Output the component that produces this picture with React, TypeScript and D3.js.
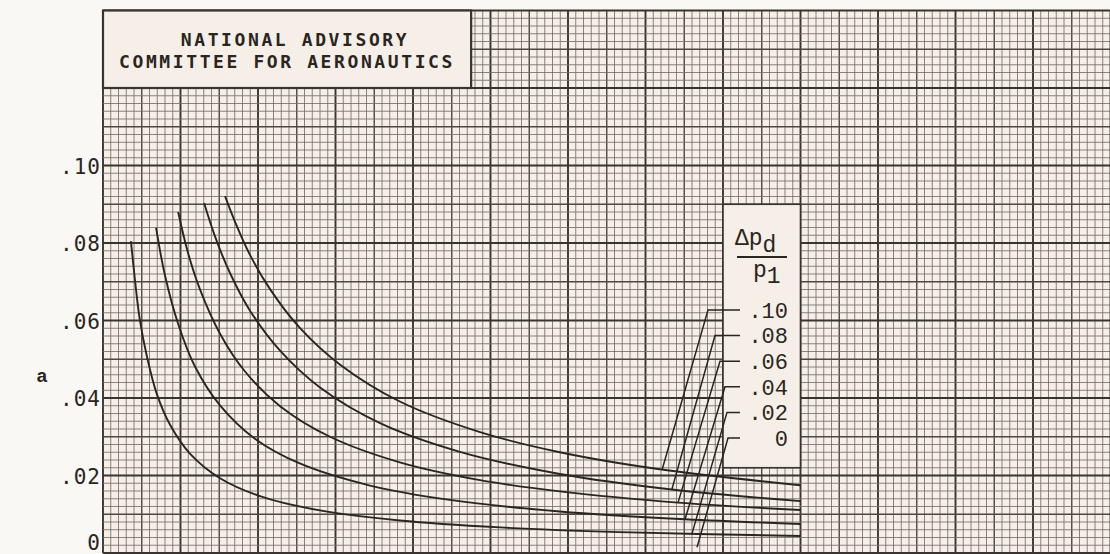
import React from 'react';
import * as d3 from 'd3';

const W = 1110;
const H = 554;

// Title block text
const titleLines = ['NATIONAL ADVISORY', 'COMMITTEE FOR AERONAUTICS'];

// Y axis ticks
const yTickValues = [0, 0.02, 0.04, 0.06, 0.08, 0.1];
const yTickLabels = ['0', '.02', '.04', '.06', '.08', '.10'];
const yAxisLabel = 'a';

// Curve parameters (Δp_d / p1)
const curveParams = [0.02, 0.04, 0.06, 0.08, 0.1];

// x in grid units (abscissa not labelled in this crop), a values
const xA = [0.72, 0.83, 0.95, 1.14, 1.39, 1.73, 2.25, 3.02, 4.05, 5.6, 7.66, 10.25, 13.34, 18.0];
const aA = [0.0805, 0.07, 0.0602, 0.0504, 0.041, 0.0331, 0.0256, 0.0193, 0.0147, 0.011, 0.0084, 0.0066, 0.0054, 0.0044];

const xB = [1.37, 1.6, 1.94, 2.37, 3.02, 3.92, 5.08, 6.89, 8.95, 11.79, 15.02, 18.0];
const aB = [0.0839, 0.0716, 0.0591, 0.0482, 0.0381, 0.0295, 0.0231, 0.0174, 0.0137, 0.0107, 0.0087, 0.0075];

const xC = [1.94, 2.19, 2.5, 3.02, 3.66, 4.57, 5.86, 7.66, 9.73, 11.79, 14.84, 18.0];
const aC = [0.088, 0.0776, 0.0681, 0.0566, 0.0469, 0.0379, 0.03, 0.0234, 0.0188, 0.0159, 0.013, 0.0111];

const xD = [2.61, 2.89, 3.28, 3.79, 4.57, 5.6, 7.15, 9.21, 11.79, 14.68, 18.0];
const aD = [0.0903, 0.0817, 0.0722, 0.0626, 0.0522, 0.0427, 0.0335, 0.0261, 0.0204, 0.0164, 0.0134];

const xE = [3.15, 3.41, 3.79, 4.31, 5.08, 6.12, 7.66, 9.73, 11.79, 14.37, 18.0];
const aE = [0.0921, 0.0854, 0.077, 0.0681, 0.0581, 0.0486, 0.0391, 0.0312, 0.026, 0.0216, 0.0175];

const curveXs = [xA, xB, xC, xD, xE];
const curveAs = [aA, aB, aC, aD, aE];

// Legend labels (Δp_d / p1), top to bottom
const legendValues = [0.1, 0.08, 0.06, 0.04, 0.02, 0];
const legendLabels = ['.10', '.08', '.06', '.04', '.02', '0'];
// x (grid units) where each leader meets its curve
const leaderFootX = [14.43, 14.68, 14.84, 15.02, 15.2, 15.33];

const X_DOMAIN: [number, number] = [0, 26];
const Y_DOMAIN: [number, number] = [0, 0.14];

function interp(xs: number[], ys: number[], x: number) {
  for (let i = 0; i < xs.length - 1; i++) {
    if (x >= xs[i] && x <= xs[i + 1]) {
      const t = (x - xs[i]) / (xs[i + 1] - xs[i]);
      return ys[i] + t * (ys[i + 1] - ys[i]);
    }
  }
  return ys[ys.length - 1];
}

export default function App() {
  const x = d3.scaleLinear().domain(X_DOMAIN).range([103, 1110.5]);
  const y = d3.scaleLinear().domain(Y_DOMAIN).range([553, 10.5]);

  const paper = '#f5efe7';
  const outside = '#f9f8f4';
  const ink = '#2a2522';

  const minorX = d3.range(0, 27.01, 0.2);
  const minorY = d3.range(0, 0.1401, 0.002);
  const gridLines: JSX.Element[] = [];
  const xLeft = x(0);
  const xRight = x(27);
  const yTop = y(0.14);
  const yBot = y(0);
  const gStroke = (k: number) => (k % 10 === 0 ? '#3a3430' : k % 5 === 0 ? '#4e4742' : '#766e68');
  const gWidth = (k: number) => (k % 10 === 0 ? 1.9 : k % 5 === 0 ? 1.4 : 0.85);
  minorX.forEach((v, i) => {
    const k = Math.round(v / 0.2);
    gridLines.push(
      <line key={'gx' + i} x1={x(v)} x2={x(v)} y1={yTop} y2={yBot} stroke={gStroke(k)} strokeWidth={gWidth(k)} />
    );
  });
  minorY.forEach((v, i) => {
    const k = Math.round(v / 0.002);
    gridLines.push(
      <line key={'gy' + i} x1={xLeft} x2={xRight} y1={y(v)} y2={y(v)} stroke={gStroke(k)} strokeWidth={gWidth(k)} />
    );
  });

  const line = d3
    .line<[number, number]>()
    .x((d) => x(d[0]))
    .y((d) => y(d[1]))
    .curve(d3.curveCatmullRom.alpha(0.5));

  const tbx0 = x(0), tbx1 = x(9.5), tby0 = y(0.14), tby1 = y(0.12);
  const lbx0 = x(16), lbx1 = x(18), lby0 = y(0.09), lby1 = y(0.022);

  const legendTop = 310;
  const legendStep = 25.6;
  const leaderTopX = [708, 715, 720, 725, 727, 728];

  return (
    <svg
      width={W}
      height={H}
      style={{ position: 'absolute', left: 0, top: 0, display: 'block' }}
      xmlns="http://www.w3.org/2000/svg"
    >
      <rect x={0} y={0} width={W} height={H} fill={outside} />
      <rect x={xLeft} y={yTop} width={xRight - xLeft} height={yBot - yTop} fill={paper} />
      <g>{gridLines}</g>

      {/* title block */}
      <rect x={tbx0} y={tby0} width={tbx1 - tbx0} height={tby1 - tby0} fill={paper} stroke="#3a3430" strokeWidth={2.2} />
      <g fontFamily="'DejaVu Sans Mono', monospace" fontWeight="bold" fontSize={18} fill={ink} textAnchor="middle" letterSpacing={2.6}>
        <text x={295} y={46}>{titleLines[0]}</text>
        <text x={287} y={68}>{titleLines[1]}</text>
      </g>

      {/* legend block */}
      <rect x={lbx0} y={lby0} width={lbx1 - lbx0} height={lby1 - lby0} fill={paper} stroke="#3a3430" strokeWidth={1.6} />

      {/* curves */}
      {curveXs.map((xs, i) => (
        <path
          key={'c' + curveParams[i]}
          d={line(xs.map((v, j) => [v, curveAs[i][j]] as [number, number])) || ''}
          fill="none"
          stroke={ink}
          strokeWidth={1.9}
        />
      ))}

      {/* leaders and legend labels */}
      {legendValues.map((v, i) => {
        const cy = legendTop + i * legendStep;
        const ci = curveParams.indexOf(v);
        const footA = ci >= 0 ? interp(curveXs[ci], curveAs[ci], leaderFootX[i]) : 0.0015;
        const fx = x(leaderFootX[i]);
        const fy = y(footA);
        return (
          <g key={'lg' + i}>
            <polyline
              points={`${fx},${fy} ${leaderTopX[i]},${cy} ${740},${cy}`}
              fill="none"
              stroke={ink}
              strokeWidth={1.5}
            />
            <text
              x={788}
              y={cy}
              dy="0.35em"
              textAnchor="end"
              fontFamily="'Liberation Mono', monospace"
              fontSize={22}
              fill={ink}
            >
              {legendLabels[i]}
            </text>
          </g>
        );
      })}

      {/* legend title Δp_d / p_1 */}
      <g fontFamily="'Liberation Mono', monospace" fontSize={23} fill={ink}>
        <text x={735} y={245}>
          Δp<tspan dy={7}>d</tspan>
        </text>
        <line x1={737} x2={787} y1={257} y2={257} stroke={ink} strokeWidth={2} />
        <text x={753} y={277}>
          p<tspan dy={6}>1</tspan>
        </text>
      </g>

      {/* y axis ticks */}
      <g fontFamily="'DejaVu Sans Mono', monospace" fontSize={21} fill={ink} textAnchor="end">
        {yTickValues.map((v, i) => (
          <text key={'yt' + i} x={101} y={y(v) + (v === 0 ? -10 : 1)} dy="0.35em" letterSpacing={1}>
            {yTickLabels[i]}
          </text>
        ))}
      </g>
      <text x={42} y={375} dy="0.35em" textAnchor="middle" fontFamily="'Liberation Mono', monospace" fontWeight="bold" fontSize={19} fill={ink}>
        {yAxisLabel}
      </text>
    </svg>
  );
}
